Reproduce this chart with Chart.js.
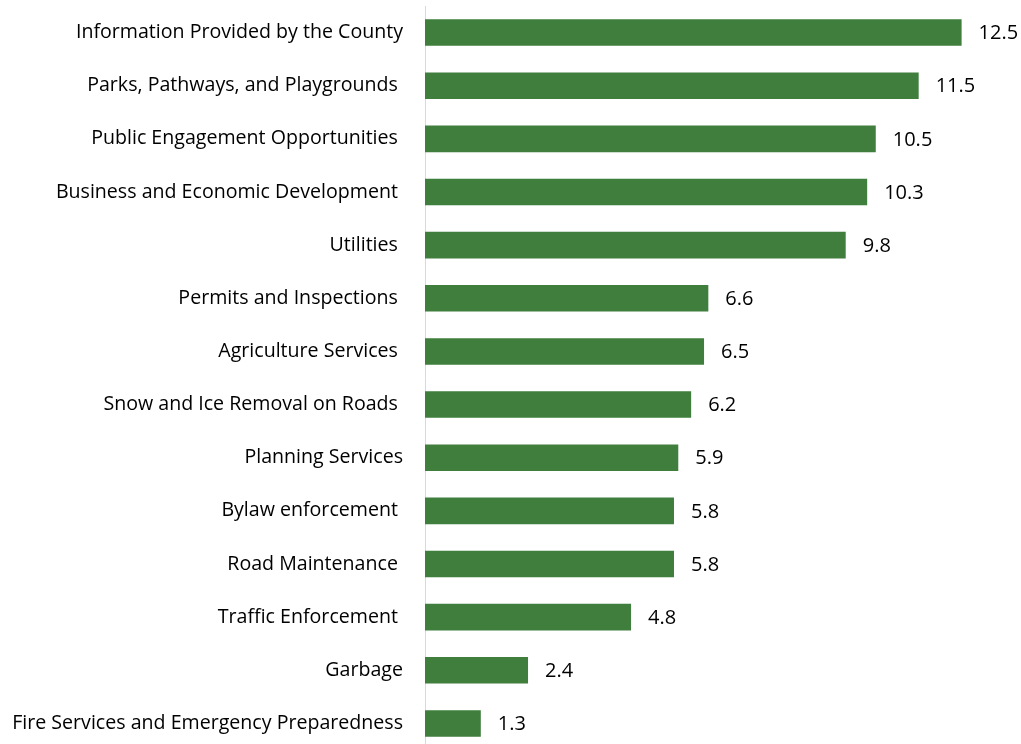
<!DOCTYPE html>
<html>
<head>
<meta charset="utf-8">
<script src="https://cdn.jsdelivr.net/npm/chart.js@4.4.0/dist/chart.umd.min.js"></script>
<style>
  html, body { margin: 0; padding: 0; background: #fff; overflow: hidden; }
  #wrap { position: relative; width: 1026px; height: 750px; }
</style>
</head>
<body>
<div id="wrap"><canvas id="myChart" width="1026" height="750"></canvas></div>
<script>
'use strict';

// categories (some carry a trailing space, as typed in the source sheet)
var categories = [
  'Information Provided by the County',
  'Parks, Pathways, and Playgrounds ',
  'Public Engagement Opportunities ',
  'Business and Economic Development ',
  'Utilities ',
  'Permits and Inspections ',
  'Agriculture Services ',
  'Snow and Ice Removal on Roads ',
  'Planning Services',
  'Bylaw enforcement ',
  'Road Maintenance ',
  'Traffic Enforcement ',
  'Garbage',
  'Fire Services and Emergency Preparedness'
];

// percent values
var values = [12.5, 11.5, 10.5, 10.3, 9.8, 6.6, 6.5, 6.2, 5.9, 5.8, 5.8, 4.8, 2.4, 1.3];

var fontFamily = '"Open Sans"';
var fontSize = 19.6;

// draws the number just past the end of each bar
var valueLabels = {
  id: 'valueLabels',
  afterDatasetsDraw: function (chart) {
    var ctx = chart.ctx;
    var meta = chart.getDatasetMeta(0);
    ctx.save();
    ctx.font = '20px ' + fontFamily;
    ctx.fillStyle = '#000';
    ctx.textAlign = 'left';
    ctx.textBaseline = 'middle';
    meta.data.forEach(function (bar, i) {
      ctx.fillText(values[i].toFixed(1), bar.x + 17, bar.y + 1);
    });
    ctx.restore();
  }
};

var ctx = document.getElementById('myChart').getContext('2d');
var chart = new Chart(ctx, {
  type: 'bar',
  data: {
    labels: categories,
    datasets: [{
      data: values,
      backgroundColor: '#3f7e3c',
      borderWidth: 0,
      barPercentage: 0.5,
      categoryPercentage: 1
    }]
  },
  options: {
    indexAxis: 'y',
    responsive: false,
    animation: false,
    layout: { padding: { top: 6, right: 0, bottom: 0, left: 0 } },
    plugins: {
      legend: { display: false },
      tooltip: { enabled: false }
    },
    scales: {
      x: {
        min: 0,
        max: 14,
        display: false
      },
      y: {
        afterFit: function (scale) {
          // fixed gutter for the labels, no extra room above/below
          scale.width = 425;
          scale.paddingTop = 0;
          scale.paddingBottom = 0;
        },
        grid: { display: false, drawTicks: false },
        border: { display: true, color: '#d9d9d9', width: 1 },
        ticks: {
          padding: 22,
          color: '#000',
          font: { family: fontFamily, size: fontSize }
        }
      }
    }
  },
  plugins: [valueLabels]
});
</script>
</body>
</html>
